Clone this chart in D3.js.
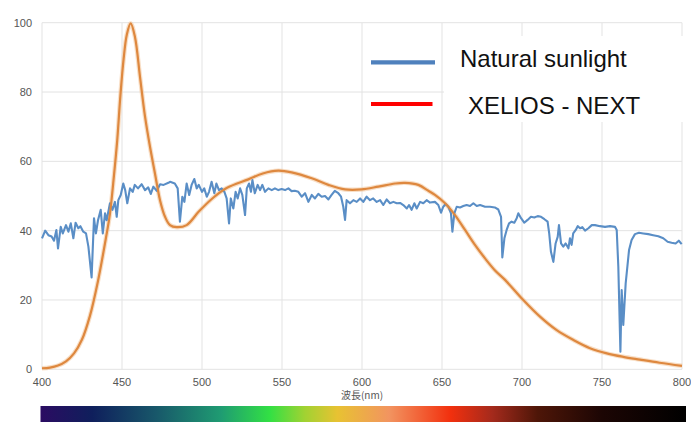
<!DOCTYPE html>
<html>
<head>
<meta charset="utf-8">
<script src="https://cdn.jsdelivr.net/npm/d3@7/dist/d3.min.js"></script>
<style>
  html, body { margin: 0; padding: 0; background: #ffffff; }
  svg { display: block; }
</style>
</head>
<body>
<svg id="chart" width="691" height="422"></svg>
<script>
// ---------- DATA ----------
const xTicks = [400, 450, 500, 550, 600, 650, 700, 750, 800];
const yTicks = [0, 20, 40, 60, 80, 100];
const xAxisTitle = "波長(nm)";
const legendLabels = ["Natural sunlight", "XELIOS - NEXT"];

const sunlightNm = [400,402,404,406,407.5,409,410,411.7,413,415,416.5,418,419.6,421,422.7,424,425.8,427.5,429,431,432.5,433.7,435,436.7,438,439.4,440.4,442.5,444,445.6,446.7,447.7,449.2,450.8,452,453.3,455,456.7,458,460,462.3,464.4,466.4,468,469.6,471.7,473.8,476,479,480,483,484.8,486.2,487.7,489,490.4,492,493.5,495.2,496.7,498,500,501.4,503,504.4,506,507.7,509,510.6,512.3,514,515.4,516.9,518,519.6,521,522.3,523.8,525.2,526.9,528,529.4,530.6,531.5,533,534.8,536.3,537.7,539.4,541.5,543.6,545.6,547.7,549.8,551.9,554,556,558,560.2,562.3,564.4,566.5,568.6,570.6,572.7,574.8,576.9,579,581,583,585.2,586.9,588.3,589.4,590.4,592.5,594.6,596.7,598.8,600.8,602.9,605,607,609.2,611.3,613.3,615.4,617.5,619.6,621.7,623.8,625.8,628,629.4,631,632.7,634.2,636.3,638.3,640.4,642.5,645.6,647.7,649.4,650.8,652.3,654,655.6,656.5,657.7,659.2,661.3,663.3,665.4,667.5,669.6,671.7,673.8,676.9,680,683,685.2,686.9,687.7,689,690.4,691.9,693.5,695.2,696.7,697.7,699.4,701.4,703.5,705.6,707.7,709.8,711.9,714,716,717,718.1,719.6,721,722.3,723.1,724.4,725.8,727.3,729,730,731,732,733.6,734.8,736.3,737.7,739.4,741.5,743.6,745.6,748.8,751.9,755,758.1,759.2,760.2,761.5,762.3,763.3,764.8,766.9,768.5,770.6,773.1,775.8,778.9,782,785.2,788.3,791,793.5,796,798,799.8];
const sunlightValues = [37.8,40,38.7,38.3,37.1,40.2,34.9,41.1,39.2,41.6,39.7,42.1,37.8,42.3,40.7,41.3,39.7,39.2,35.4,26.5,43.6,39.2,43,46,39.2,45,43,47.9,46,48.3,44,48.8,50.3,53.6,51.7,47.9,52.2,51.2,53.2,52.2,53.4,51.7,52.5,50.6,52.7,51.5,53.4,53.2,53.8,54.1,53.6,52.2,42.6,49.8,48.3,53.6,50.3,53.2,54.9,52.2,53.2,51.2,52.2,49.8,51.2,54.1,50.8,53.6,51.7,52.2,51.2,49.3,42.1,49.3,46.4,51.2,49.3,52.2,50.3,44.5,52.2,53.6,51.2,54.6,50.8,53.2,51.7,53.2,51.2,52.2,51.7,52.2,51.7,52,51.7,52.2,51.4,51.5,51.2,49.8,50.8,48.3,50.3,49.3,50.6,49.8,50,49,50.3,51.5,50.8,49.8,46.9,43.1,48.8,47.9,48.8,48.3,49.3,48.3,49.8,48.8,49.3,48.3,48.8,47.4,49,47.9,48.3,47.9,48,47.4,46.4,47.4,46,47.9,46.4,48.3,47.9,48.8,48.1,48.3,47.4,45.2,46.9,47.7,46.9,45,39.7,45,46.9,46.7,47.1,47.4,47.1,47.9,47.1,47.4,46.9,46.9,46.7,46.1,44,32.3,37.8,40.2,42.1,42.6,42.3,43.6,45,43.6,42.3,43.1,44,43.8,44.2,44,43.3,42.6,39.2,33.9,31,36.3,38.2,41.6,36.3,35.4,36.3,34.9,37.8,35.9,39.2,40.2,41.3,40.7,41,40,40.7,41.6,41.6,41.3,41.1,41.3,41.1,40.2,29.6,5.1,22.9,12.8,24.8,34.4,37.3,39,39.4,39.2,39,38.7,38.4,37.8,36.8,36.5,36.3,37.1,36.1];

const xeliosNm = [400,405,410,415,420,425,430,435,440,442.5,445,447,449,451,453,455.4,458.1,461.25,464.4,467.5,470.6,473.75,476.9,480,484.2,490.4,498,507,515.4,529,538,547.7,556,568.6,579,589.4,599.8,610.2,620.6,626.9,635.2,641.5,645.6,651.9,658.1,664.4,670.6,676.9,683,689.4,700.8,711.25,721.7,732,742.5,753,763.3,773.75,786,800];
const xeliosValues = [0.3,0.5,1.1,2.3,4.6,8.6,15.5,25.5,38,45,56,66,79,89.5,96.5,99.8,95.9,84.4,72.9,64.2,56.5,48.8,44,41.6,41,41.6,45.5,49.5,52.3,54.8,56.5,57.3,56.8,55.1,53.2,51.9,51.9,52.7,53.6,53.8,53.2,51.5,50.3,47.9,44.5,40.2,35.9,32,28.6,25.8,20,15.2,11.3,8.5,6.1,4.6,3.6,2.8,1.9,1.0];

// spectrum bar colour stops (position 0..1 across the bar)
const spectrumOffsets = [0, 0.08, 0.18, 0.28, 0.355, 0.41, 0.46, 0.54, 0.635, 0.70, 0.77, 0.87, 1];
const spectrumColors  = ["#2b0c62", "#0f1f5c", "#18586a", "#1f9c72", "#32e044", "#a2d232", "#e8c232", "#f29460", "#f2300e", "#a42a1c", "#4e1608", "#1c0604", "#000000"];

// ---------- DRAW ----------
const svg = d3.select("#chart");
const x = d3.scaleLinear().domain([400, 800]).range([42, 682]);
const y = d3.scaleLinear().domain([0, 100]).range([369.3, 22.7]);

const font = "'Liberation Sans', Arial, sans-serif";

// grid
svg.append("g").selectAll("line.v").data(xTicks).join("line")
  .attr("x1", d => x(d)).attr("x2", d => x(d))
  .attr("y1", y(100)).attr("y2", y(0))
  .attr("stroke", "#e3e3e3").attr("stroke-width", 1);
svg.append("g").selectAll("line.h").data(yTicks).join("line")
  .attr("x1", x(400)).attr("x2", x(800))
  .attr("y1", d => y(d)).attr("y2", d => y(d))
  .attr("stroke", "#e3e3e3").attr("stroke-width", 1);

// axis labels
svg.append("g").selectAll("text").data(yTicks).join("text")
  .attr("x", 32).attr("y", d => y(d) + 4)
  .attr("text-anchor", "end")
  .attr("font-family", font).attr("font-size", 11)
  .attr("fill", "#555555")
  .text(d => d);
svg.append("g").selectAll("text").data(xTicks).join("text")
  .attr("x", d => x(d)).attr("y", 386)
  .attr("text-anchor", "middle")
  .attr("font-family", font).attr("font-size", 11)
  .attr("fill", "#555555")
  .text(d => d);
svg.append("text")
  .attr("x", x(600)).attr("y", 399)
  .attr("text-anchor", "middle")
  .attr("font-family", "'Noto Sans CJK JP', sans-serif").attr("font-size", 10)
  .attr("fill", "#555555")
  .text(xAxisTitle);

// series
const sunData = sunlightNm.map((d, i) => [d, sunlightValues[i]]);
const xelData = xeliosNm.map((d, i) => [d, xeliosValues[i]]);
const smooth = d3.line().x(d => x(d[0])).y(d => y(d[1])).curve(d3.curveCatmullRom.alpha(0.5));

svg.append("path").datum(xelData)
  .attr("fill", "none").attr("stroke", "#f3c9a2").attr("stroke-width", 4.5)
  .attr("stroke-opacity", 0.6)
  .attr("d", smooth);

svg.append("path").datum(sunData)
  .attr("fill", "none").attr("stroke", "#5a8ec6").attr("stroke-width", 2.1)
  .attr("stroke-linejoin", "round")
  .attr("d", d3.line().x(d => x(d[0])).y(d => y(d[1])));

svg.append("path").datum(xelData)
  .attr("fill", "none").attr("stroke", "#de883f").attr("stroke-width", 2.2)
  .attr("d", smooth);

// legend
svg.append("rect").attr("x", 444).attr("y", 36).attr("width", 247).attr("height", 86).attr("fill", "#ffffff");
const legendColors = ["#4f81bd", "#ff0000"];
const legendLineY = [62.3, 104];
const legendLineX2 = [435, 432.5];
const legendTextX = [460, 468];
const legendTextY = [67, 113.5];
legendLabels.forEach((lab, i) => {
  svg.append("line")
    .attr("x1", 371).attr("x2", legendLineX2[i])
    .attr("y1", legendLineY[i]).attr("y2", legendLineY[i])
    .attr("stroke", legendColors[i]).attr("stroke-width", 4.2);
  svg.append("text")
    .attr("x", legendTextX[i]).attr("y", legendTextY[i])
    .attr("font-family", font).attr("font-size", 24)
    .attr("fill", "#111111")
    .text(lab);
});

// spectrum bar
const defs = svg.append("defs");
const grad = defs.append("linearGradient").attr("id", "spec")
  .attr("x1", "0%").attr("x2", "100%").attr("y1", "0%").attr("y2", "0%");
grad.selectAll("stop").data(spectrumOffsets).join("stop")
  .attr("offset", d => d)
  .attr("stop-color", (d, i) => spectrumColors[i]);
svg.append("rect")
  .attr("x", 40.5).attr("y", 406).attr("width", 645.5).attr("height", 16)
  .attr("fill", "url(#spec)");
</script>
</body>
</html>
